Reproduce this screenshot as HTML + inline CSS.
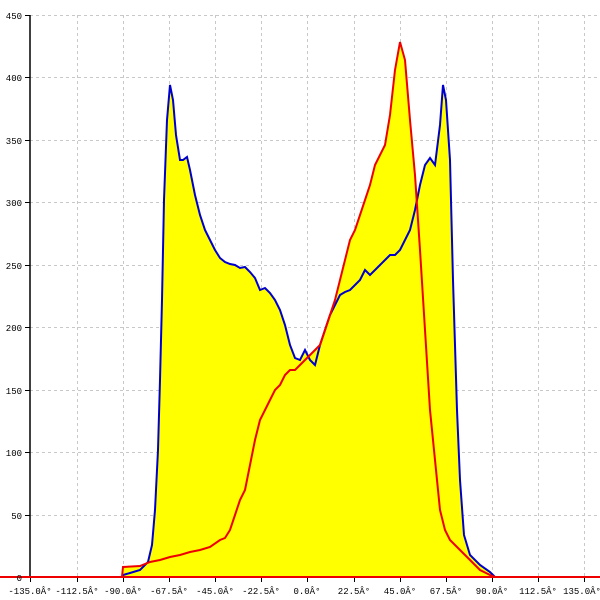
<!DOCTYPE html>
<html><head><meta charset="utf-8"><style>body{margin:0;background:#fff}svg{display:block}text{font-family:"Liberation Mono",monospace;font-size:9px;fill:#000}</style></head><body>
<svg width="600" height="600" xmlns="http://www.w3.org/2000/svg">
<g stroke="#c8c8c8" stroke-dasharray="3,3" stroke-width="1">
<line x1="30" y1="15.5" x2="600" y2="15.5"/><line x1="30" y1="77.5" x2="600" y2="77.5"/><line x1="30" y1="140.5" x2="600" y2="140.5"/><line x1="30" y1="202.5" x2="600" y2="202.5"/><line x1="30" y1="265.5" x2="600" y2="265.5"/><line x1="30" y1="327.5" x2="600" y2="327.5"/><line x1="30" y1="390.5" x2="600" y2="390.5"/><line x1="30" y1="452.5" x2="600" y2="452.5"/><line x1="30" y1="515.5" x2="600" y2="515.5"/>
<line x1="77.5" y1="15" x2="77.5" y2="577"/><line x1="123.5" y1="15" x2="123.5" y2="577"/><line x1="169.5" y1="15" x2="169.5" y2="577"/><line x1="215.5" y1="15" x2="215.5" y2="577"/><line x1="261.5" y1="15" x2="261.5" y2="577"/><line x1="307.5" y1="15" x2="307.5" y2="577"/><line x1="354.5" y1="15" x2="354.5" y2="577"/><line x1="400.5" y1="15" x2="400.5" y2="577"/><line x1="446.5" y1="15" x2="446.5" y2="577"/><line x1="492.5" y1="15" x2="492.5" y2="577"/><line x1="538.5" y1="15" x2="538.5" y2="577"/><line x1="584.5" y1="15" x2="584.5" y2="577"/>
</g>
<g fill="#ffff00" stroke="none">
<polygon points="122,577 123,575 130,573 140,570 148,562 152,545 155,510 158,450 160,380 162,300 164,200 167,120 170,85 173,100 176,135 180,160 183,160 187,157 190,170 195,195 200,215 205,230 210,240 215,250 220,258 225,262 230,264 235,265 240,268 245,267 250,272 255,278 260,290 265,288 270,293 275,300 280,310 285,325 290,345 295,358 300,360 305,350 310,360 315,365 320,345 325,330 330,315 335,305 340,295 345,292 350,290 355,285 360,280 365,270 370,275 375,270 380,265 385,260 390,255 395,255 400,250 405,240 410,230 415,210 420,185 425,165 430,158 435,165 440,125 443,85 446,100 450,160 453,280 457,410 460,480 464,535 470,555 480,565 490,572 495,577"/>
<polygon points="122,577 123,567 140,566 150,562 160,560 170,557 180,555 190,552 200,550 210,547 220,540 225,538 230,530 235,515 240,500 245,490 250,465 255,440 260,420 265,410 270,400 275,390 280,385 285,375 290,370 295,370 300,365 305,360 310,355 315,350 320,345 325,330 330,315 335,300 340,280 345,260 350,240 355,230 360,215 365,200 370,185 375,165 380,155 385,145 390,115 395,70 400,42 405,60 410,120 415,175 420,250 425,330 430,410 435,460 440,510 445,530 450,540 460,550 470,560 480,570 490,575 495,577"/>
</g>
<g stroke="#000" stroke-width="1.5"><line x1="30" y1="15" x2="30" y2="578"/></g>
<g stroke="#000" stroke-width="1">
<line x1="25" y1="15.5" x2="30" y2="15.5"/><line x1="25" y1="77.5" x2="30" y2="77.5"/><line x1="25" y1="140.5" x2="30" y2="140.5"/><line x1="25" y1="202.5" x2="30" y2="202.5"/><line x1="25" y1="265.5" x2="30" y2="265.5"/><line x1="25" y1="327.5" x2="30" y2="327.5"/><line x1="25" y1="390.5" x2="30" y2="390.5"/><line x1="25" y1="452.5" x2="30" y2="452.5"/><line x1="25" y1="515.5" x2="30" y2="515.5"/>
<line x1="30.5" y1="577" x2="30.5" y2="582"/><line x1="77.5" y1="577" x2="77.5" y2="582"/><line x1="123.5" y1="577" x2="123.5" y2="582"/><line x1="169.5" y1="577" x2="169.5" y2="582"/><line x1="215.5" y1="577" x2="215.5" y2="582"/><line x1="261.5" y1="577" x2="261.5" y2="582"/><line x1="307.5" y1="577" x2="307.5" y2="582"/><line x1="354.5" y1="577" x2="354.5" y2="582"/><line x1="400.5" y1="577" x2="400.5" y2="582"/><line x1="446.5" y1="577" x2="446.5" y2="582"/><line x1="492.5" y1="577" x2="492.5" y2="582"/><line x1="538.5" y1="577" x2="538.5" y2="582"/><line x1="584.5" y1="577" x2="584.5" y2="582"/>
</g>
<polyline fill="none" stroke="#0000cc" stroke-width="2" points="122,577 123,575 130,573 140,570 148,562 152,545 155,510 158,450 160,380 162,300 164,200 167,120 170,85 173,100 176,135 180,160 183,160 187,157 190,170 195,195 200,215 205,230 210,240 215,250 220,258 225,262 230,264 235,265 240,268 245,267 250,272 255,278 260,290 265,288 270,293 275,300 280,310 285,325 290,345 295,358 300,360 305,350 310,360 315,365 320,345 325,330 330,315 335,305 340,295 345,292 350,290 355,285 360,280 365,270 370,275 375,270 380,265 385,260 390,255 395,255 400,250 405,240 410,230 415,210 420,185 425,165 430,158 435,165 440,125 443,85 446,100 450,160 453,280 457,410 460,480 464,535 470,555 480,565 490,572 495,577"/>
<polyline fill="none" stroke="#ee0000" stroke-width="2" points="122,577 123,567 140,566 150,562 160,560 170,557 180,555 190,552 200,550 210,547 220,540 225,538 230,530 235,515 240,500 245,490 250,465 255,440 260,420 265,410 270,400 275,390 280,385 285,375 290,370 295,370 300,365 305,360 310,355 315,350 320,345 325,330 330,315 335,300 340,280 345,260 350,240 355,230 360,215 365,200 370,185 375,165 380,155 385,145 390,115 395,70 400,42 405,60 410,120 415,175 420,250 425,330 430,410 435,460 440,510 445,530 450,540 460,550 470,560 480,570 490,575 495,577"/>
<line x1="0" y1="577" x2="600" y2="577" stroke="#ee0000" stroke-width="2"/>
<g text-anchor="end">
<text x="22" y="19">450</text><text x="22" y="81">400</text><text x="22" y="144">350</text><text x="22" y="206">300</text><text x="22" y="269">250</text><text x="22" y="331">200</text><text x="22" y="394">150</text><text x="22" y="456">100</text><text x="22" y="519">50</text><text x="22" y="581">0</text>
</g>
<g text-anchor="middle">
<text x="30" y="594">-135.0Â°</text><text x="77" y="594">-112.5Â°</text><text x="123" y="594">-90.0Â°</text><text x="169" y="594">-67.5Â°</text><text x="215" y="594">-45.0Â°</text><text x="261" y="594">-22.5Â°</text><text x="307" y="594">0.0Â°</text><text x="354" y="594">22.5Â°</text><text x="400" y="594">45.0Â°</text><text x="446" y="594">67.5Â°</text><text x="492" y="594">90.0Â°</text><text x="538" y="594">112.5Â°</text><text x="582" y="594">135.0Â°</text>
</g>
</svg>
</body></html>
